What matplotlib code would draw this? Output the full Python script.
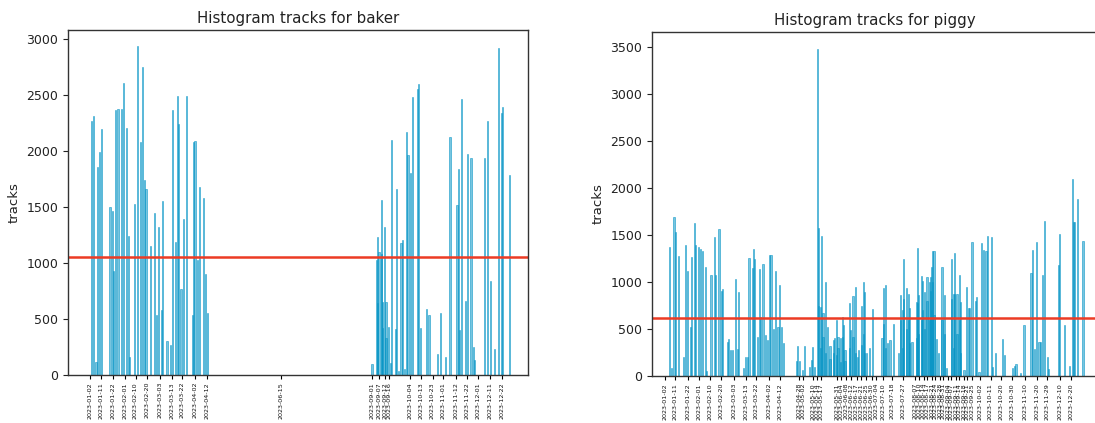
import matplotlib
matplotlib.use("Agg")
import matplotlib.pyplot as plt
import pandas as pd

# ---------------- data ----------------
baker_dates = [
    "2023-01-03", "2023-01-05", "2023-01-07", "2023-01-08", "2023-01-10", "2023-01-12",
    "2023-01-19", "2023-01-21", "2023-01-22", "2023-01-24", "2023-01-26", "2023-01-29",
    "2023-01-31", "2023-02-02", "2023-02-04", "2023-02-05", "2023-02-09", "2023-02-12",
    "2023-02-14", "2023-02-16", "2023-02-18", "2023-02-19", "2023-02-23", "2023-02-26",
    "2023-02-28", "2023-03-02", "2023-03-04", "2023-03-05", "2023-03-09", "2023-03-12",
    "2023-03-14", "2023-03-16", "2023-03-18", "2023-03-19", "2023-03-21", "2023-03-23",
    "2023-03-26", "2023-03-31", "2023-04-01", "2023-04-02", "2023-04-04", "2023-04-06",
    "2023-04-09", "2023-04-11", "2023-04-13",
    "2023-09-01", "2023-09-05", "2023-09-06", "2023-09-06", "2023-09-07", "2023-09-09",
    "2023-09-09", "2023-09-10", "2023-09-10", "2023-09-12", "2023-09-13", "2023-09-13",
    "2023-09-15", "2023-09-17", "2023-09-18", "2023-09-21", "2023-09-22", "2023-09-24",
    "2023-09-26", "2023-09-27", "2023-09-29", "2023-10-01", "2023-10-02", "2023-10-04",
    "2023-10-06", "2023-10-10", "2023-10-11", "2023-10-13", "2023-10-18", "2023-10-20",
    "2023-10-27", "2023-10-30", "2023-11-03", "2023-11-07", "2023-11-13", "2023-11-14",
    "2023-11-15", "2023-11-17", "2023-11-20", "2023-11-22", "2023-11-25", "2023-11-27",
    "2023-11-28", "2023-12-07", "2023-12-09", "2023-12-12", "2023-12-15", "2023-12-19",
    "2023-12-21", "2023-12-22", "2023-12-28",
]
baker_tracks = [
    2268, 2315, 119, 1860, 1988, 2193,
    1503, 1467, 931, 2366, 2372, 2372,
    2604, 2202, 1241, 164, 1527, 2938,
    2083, 2747, 1741, 1658, 1155, 1449,
    533, 1324, 580, 1556, 306, 268,
    2366, 1190, 2491, 2241, 765, 1390,
    2491, 536, 2078, 2092, 1027, 1682,
    1577, 902, 551,
    98, 1027, 1235, 640, 1101, 1562,
    1080, 655, 420, 1324, 655, 330,
    432, 104, 2098, 408, 1658, 40,
    1176, 1205, 50, 2173, 1964, 1806,
    2479, 2551, 2595, 417, 587, 533,
    185, 556, 164, 2128, 1518, 1836,
    402, 2461, 661, 1973, 1935, 253,
    138, 1940, 2268, 839, 232, 2920,
    2342, 2390, 1783,
]
baker_mean = 1050

piggy_dates = [
    "2023-01-06", "2023-01-08", "2023-01-10", "2023-01-11", "2023-01-14", "2023-01-18",
    "2023-01-20", "2023-01-22", "2023-01-24", "2023-01-25", "2023-01-28", "2023-01-29",
    "2023-01-31", "2023-02-02", "2023-02-04", "2023-02-06", "2023-02-07", "2023-02-11",
    "2023-02-14", "2023-02-15", "2023-02-18", "2023-02-20", "2023-02-21", "2023-02-25",
    "2023-02-26", "2023-02-28", "2023-03-02", "2023-03-04", "2023-03-06", "2023-03-07",
    "2023-03-11", "2023-03-13", "2023-03-15", "2023-03-16", "2023-03-19", "2023-03-20",
    "2023-03-21", "2023-03-23", "2023-03-25", "2023-03-26", "2023-03-28", "2023-03-30",
    "2023-04-01", "2023-04-03", "2023-04-04", "2023-04-06", "2023-04-08", "2023-04-10",
    "2023-04-11", "2023-04-13", "2023-04-15",
    "2023-04-26", "2023-04-27", "2023-04-29", "2023-05-01", "2023-05-03", "2023-05-07",
    "2023-05-09", "2023-05-10", "2023-05-12", "2023-05-14", "2023-05-15", "2023-05-15",
    "2023-05-17", "2023-05-17", "2023-05-18", "2023-05-19", "2023-05-19", "2023-05-21",
    "2023-05-21", "2023-05-23", "2023-05-25", "2023-05-25", "2023-05-28", "2023-05-28",
    "2023-05-29", "2023-05-31", "2023-05-31", "2023-06-01", "2023-06-01", "2023-06-03",
    "2023-06-03", "2023-06-05", "2023-06-05", "2023-06-06", "2023-06-07", "2023-06-07",
    "2023-06-11", "2023-06-11", "2023-06-12", "2023-06-14", "2023-06-14", "2023-06-16",
    "2023-06-16", "2023-06-18", "2023-06-19", "2023-06-21", "2023-06-21", "2023-06-23",
    "2023-06-23", "2023-06-24", "2023-06-24", "2023-06-26", "2023-06-28", "2023-07-01",
    "2023-07-09", "2023-07-10", "2023-07-10", "2023-07-12", "2023-07-12", "2023-07-14",
    "2023-07-16", "2023-07-19", "2023-07-23", "2023-07-25", "2023-07-25", "2023-07-27",
    "2023-07-27", "2023-07-28", "2023-07-28", "2023-07-30", "2023-07-30", "2023-08-01",
    "2023-08-01", "2023-08-02", "2023-08-02", "2023-08-04", "2023-08-08", "2023-08-08",
    "2023-08-09", "2023-08-09", "2023-08-10", "2023-08-10", "2023-08-12", "2023-08-12",
    "2023-08-13", "2023-08-13", "2023-08-15", "2023-08-15", "2023-08-17", "2023-08-17",
    "2023-08-19", "2023-08-19", "2023-08-20", "2023-08-20", "2023-08-21", "2023-08-21",
    "2023-08-22", "2023-08-22", "2023-08-23", "2023-08-23", "2023-08-25", "2023-08-27",
    "2023-08-30", "2023-08-30", "2023-09-01", "2023-09-01", "2023-09-03", "2023-09-07",
    "2023-09-07", "2023-09-09", "2023-09-09", "2023-09-10", "2023-09-10", "2023-09-12",
    "2023-09-12", "2023-09-14", "2023-09-14", "2023-09-15", "2023-09-15", "2023-09-18",
    "2023-09-20", "2023-09-22", "2023-09-23", "2023-09-25", "2023-09-28", "2023-09-29",
    "2023-10-01", "2023-10-03", "2023-10-05", "2023-10-07", "2023-10-08", "2023-10-12",
    "2023-10-13", "2023-10-15", "2023-10-21", "2023-10-23", "2023-10-30", "2023-11-01",
    "2023-11-02", "2023-11-06", "2023-11-09", "2023-11-15", "2023-11-16", "2023-11-18",
    "2023-11-20", "2023-11-22", "2023-11-23", "2023-11-25", "2023-11-27", "2023-11-29",
    "2023-11-30", "2023-12-09", "2023-12-10", "2023-12-14", "2023-12-18", "2023-12-21",
    "2023-12-22", "2023-12-23", "2023-12-25", "2023-12-30",
]
piggy_tracks = [
    1376, 82, 1688, 1532, 1277, 206,
    1390, 1120, 518, 1270, 1631, 1390,
    1376, 1348, 1333, 1163, 56, 1071,
    1475, 1078, 1560, 907, 922, 362,
    390, 277, 277, 1035, 284, 897,
    82, 199, 199, 1255, 1146, 1355,
    1248, 411, 1142, 631, 1191, 436,
    383, 1284, 1284, 504, 1120, 525,
    968, 525, 355,
    163, 319, 163, 60, 319, 100,
    170, 312, 100, 3475, 1571, 740,
    738, 300, 1489, 667, 420, 1004,
    250, 525, 319, 180, 383, 250,
    404, 596, 220, 418, 300, 404,
    150, 631, 420, 543, 277, 160,
    780, 300, 489, 851, 420, 950,
    250, 199, 277, 745, 330, 1004,
    450, 897, 250, 241, 300, 710,
    404, 933, 550, 968, 300, 355,
    383, 553, 241, 862, 600, 702,
    300, 1248, 820, 933, 500, 872,
    600, 720, 350, 362, 790, 400,
    1365, 780, 862, 450, 1064, 600,
    1014, 700, 897, 500, 1057, 800,
    1004, 600, 1057, 900, 1163, 700,
    1333, 1000, 1333, 650, 390, 248,
    1163, 600, 862, 450, 82, 1248,
    820, 872, 300, 1305, 870, 872,
    450, 1074, 600, 790, 250, 60,
    950, 720, 720, 1429, 800, 837,
    43, 1418, 1340, 1333, 1489, 1475,
    96, 241, 390, 227, 88, 104,
    124, 35, 543, 1099, 1340, 291,
    1429, 362, 362, 1074, 1646, 199,
    70, 1181, 1511, 543, 104, 2092,
    1642, 1642, 1880, 1439,
]
piggy_mean = 615

baker_ticks = [
    "2023-01-02", "2023-01-11", "2023-01-22", "2023-02-01", "2023-02-10", "2023-02-20",
    "2023-03-03", "2023-03-13", "2023-03-22", "2023-04-02", "2023-04-12", "2023-06-15",
    "2023-09-01", "2023-09-07", "2023-09-12", "2023-09-16", "2023-10-04", "2023-10-13",
    "2023-10-23", "2023-11-01", "2023-11-12", "2023-11-22", "2023-12-01", "2023-12-11",
    "2023-12-22",
]
piggy_ticks = [
    "2023-01-02", "2023-01-11", "2023-01-22", "2023-02-01", "2023-02-10", "2023-02-20",
    "2023-03-03", "2023-03-13", "2023-03-22", "2023-04-02", "2023-04-12",
    "2023-04-28", "2023-05-02", "2023-05-10", "2023-05-14", "2023-05-17",
    "2023-05-31", "2023-06-04", "2023-06-08", "2023-06-12", "2023-06-17", "2023-06-21",
    "2023-06-25", "2023-06-30", "2023-07-04", "2023-07-10", "2023-07-18", "2023-07-27",
    "2023-08-07", "2023-08-10", "2023-08-14", "2023-08-17", "2023-08-21", "2023-08-24",
    "2023-08-28", "2023-08-31", "2023-09-04", "2023-09-07", "2023-09-11", "2023-09-14",
    "2023-09-18", "2023-09-21", "2023-09-25",
    "2023-10-02", "2023-10-11", "2023-10-20", "2023-10-30", "2023-11-10", "2023-11-20",
    "2023-11-29", "2023-12-10", "2023-12-20",
]

# ---------------- plot ----------------
BAR_COLOR = "#0a96c6"
LINE_COLOR = "#ec3b24"

fig = plt.figure(figsize=(10.95, 4.23), dpi=100)
ax1 = fig.add_axes([68 / 1095, 1 - 375 / 423, 460 / 1095, 345 / 423])
ax2 = fig.add_axes([652 / 1095, 1 - 376 / 423, 446 / 1095, 344 / 423])


def draw(ax, dates, tracks, mean, ticks, title, xlim, ylim, yticks):
    d = pd.to_datetime(dates)
    ax.bar(d, tracks, width=1.0, color=BAR_COLOR, alpha=0.55,
           edgecolor=BAR_COLOR, linewidth=0.7)
    ax.axhline(mean, color=LINE_COLOR, linewidth=1.8)
    ax.set_title(title, fontsize=10.8, color="#222222", pad=5)
    ax.set_ylabel("tracks", fontsize=9.5, color="#222222")
    t = pd.to_datetime(ticks)
    ax.set_xticks(t)
    ax.set_xticklabels([x.strftime("%Y-%m-%d") for x in t], rotation=90,
                       fontsize=4.6, color="#111111")
    ax.set_xlim(pd.Timestamp(xlim[0]), pd.Timestamp(xlim[1]))
    ax.set_ylim(*ylim)
    ax.set_yticks(yticks)
    ax.tick_params(axis="y", labelsize=9, colors="#222222")
    ax.tick_params(axis="x", length=3, pad=2)
    for s in ax.spines.values():
        s.set_color("#333333")
        s.set_linewidth(1.0)


draw(ax1, baker_dates, baker_tracks, baker_mean, baker_ticks,
     "Histogram tracks for baker", ("2022-12-14", "2024-01-13"), (0, 3080),
     list(range(0, 3001, 500)))
draw(ax2, piggy_dates, piggy_tracks, piggy_mean, piggy_ticks,
     "Histogram tracks for piggy", ("2022-12-22", "2024-01-12"), (0, 3660),
     list(range(0, 3501, 500)))

fig.savefig("out.png", dpi=100)
